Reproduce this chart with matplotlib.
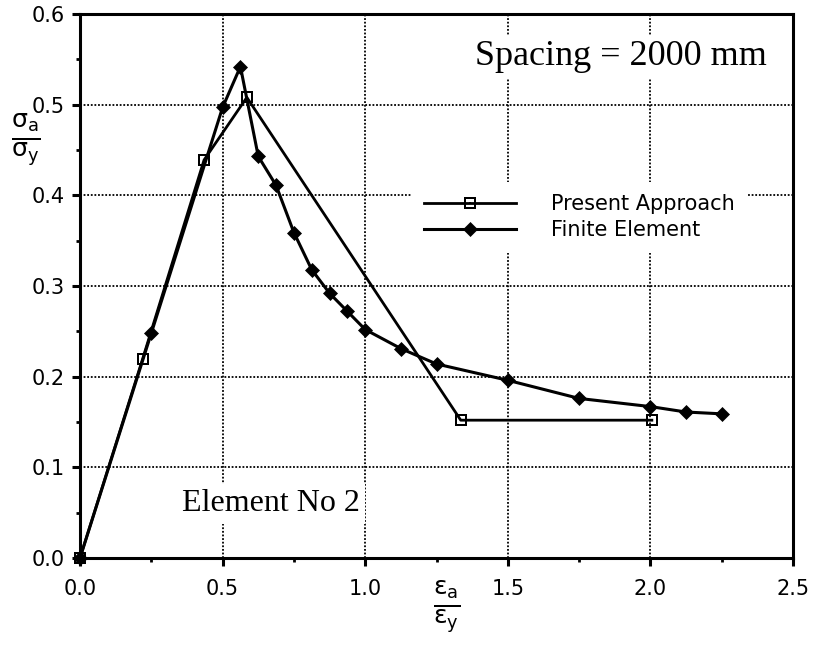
import matplotlib
matplotlib.use("Agg")
import matplotlib.pyplot as plt
from matplotlib.path import Path
import numpy as np

# Normalised strain (eps_a / eps_y) and stress (sigma_a / sigma_y)
present_x = [0.0, 0.22, 0.435, 0.585, 1.335, 2.005]
present_y = [0.0, 0.220, 0.439, 0.508, 0.152, 0.152]

fe_x = [0.0, 0.25, 0.5, 0.5625, 0.625, 0.6875, 0.75, 0.8125, 0.875,
        0.9375, 1.0, 1.125, 1.25, 1.5, 1.75, 2.0, 2.125, 2.25]
fe_y = [0.0, 0.248, 0.497, 0.542, 0.443, 0.411, 0.359, 0.318, 0.292,
        0.272, 0.252, 0.231, 0.214, 0.196, 0.176, 0.167, 0.161, 0.159]

x_ticks = [0.0, 0.5, 1.0, 1.5, 2.0, 2.5]
y_ticks = [0.0, 0.1, 0.2, 0.3, 0.4, 0.5, 0.6]

plt.rcParams['font.family'] = ['DejaVu Sans']
plt.rcParams['mathtext.fontset'] = 'dejavusans'

# hollow square with a centre dot
def _sq(h, ccw=True):
    pts = [(-h, -h), (h, -h), (h, h), (-h, h), (-h, -h)]
    return pts if ccw else pts[::-1]

verts = _sq(1.0) + _sq(0.6, ccw=False) + _sq(0.2)
codes = ([Path.MOVETO] + [Path.LINETO] * 3 + [Path.CLOSEPOLY]) * 3
dot_square = Path(verts, codes)

fig = plt.figure(figsize=(8.15, 6.45), dpi=100)
ax = fig.add_axes([80 / 815, 1 - 558 / 645, 713 / 815, 544 / 645])

ax.plot(present_x, present_y, color='black', lw=2.0, marker=dot_square,
        markersize=9, markerfacecolor='black', markeredgewidth=0,
        clip_on=False, zorder=4, label='Present Approach')
ax.plot(fe_x, fe_y, color='black', lw=2.2, marker='D', markersize=7.5,
        markerfacecolor='black', markeredgecolor='black', markeredgewidth=0.5,
        clip_on=False, zorder=5, label='Finite Element')

ax.set_xlim(0, 2.5)
ax.set_ylim(0, 0.6)
ax.set_xticks(x_ticks)
ax.set_xticklabels([f'{v:.1f}' for v in x_ticks])
ax.set_yticks(y_ticks)
ax.set_yticklabels([f'{v:.1f}' for v in y_ticks])
ax.set_xticks(np.arange(0.25, 2.5, 0.5), minor=True)
ax.set_yticks(np.arange(0.05, 0.6, 0.1), minor=True)

ax.grid(True, which='major', color='black', lw=1.3, linestyle=(0, (1, 1)))
ax.set_axisbelow(True)

for s in ax.spines.values():
    s.set_linewidth(2.2)
ax.tick_params(which='major', direction='out', length=6, width=2.2,
               labelsize=15, colors='black')
ax.tick_params(axis='x', which='major', pad=9)
ax.tick_params(axis='y', which='major', pad=5)
ax.tick_params(which='minor', direction='out', length=3, width=2)

serif = ['Liberation Serif', 'DejaVu Serif']
ax.text(1.895, 0.553, 'Spacing = 2000 mm', family=serif, fontsize=26,
        ha='center', va='center', zorder=3,
        bbox=dict(facecolor='white', edgecolor='none', pad=4))
ax.text(0.67, 0.06, 'Element No 2', family=serif, fontsize=23,
        ha='center', va='center', zorder=3,
        bbox=dict(facecolor='white', edgecolor='none', pad=4))

leg = ax.legend(loc='upper left', bbox_to_anchor=(0.465, 0.692),
                frameon=True, facecolor='white', edgecolor='none',
                framealpha=1, fancybox=False, fontsize=15,
                handlelength=4.4, handletextpad=1.7, labelspacing=0.3,
                borderpad=0.6, borderaxespad=0)
leg.set_zorder(3)

fig.text(26 / 815, 1 - 140 / 645,
         r'$\frac{\mathregular{σ_a}}{\mathregular{σ_y}}$',
         fontsize=26, ha='center', va='center')
fig.text(447 / 815, 1 - 607 / 645,
         r'$\frac{\mathregular{ε_a}}{\mathregular{ε_y}}$',
         fontsize=26, ha='center', va='center')

fig.savefig('out.png', dpi=100)
